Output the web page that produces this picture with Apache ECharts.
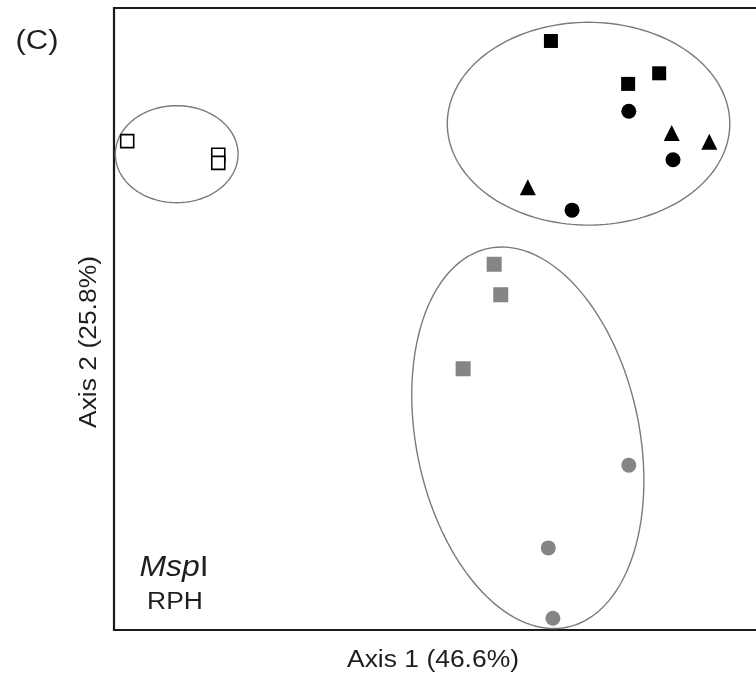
<!DOCTYPE html>
<html>
<head>
<meta charset="utf-8">
<script src="https://cdn.jsdelivr.net/npm/echarts@6/dist/echarts.min.js"></script>
<style>
  html, body { margin: 0; padding: 0; background: #fff; }
  #chart { width: 756px; height: 676px; }
</style>
</head>
<body>
<div id="chart"></div>
<script>
// Ordination scores [axis 1, axis 2] for each sample group
const openSquares    = [[2.0, 78.6], [15.8, 76.4], [15.8, 75.1]];
const blackSquares   = [[66.2, 94.7], [77.9, 87.8], [82.6, 89.5]];
const blackCircles   = [[78.0, 83.4], [84.7, 75.6], [69.4, 67.5]];
const blackTriangles = [[84.5, 79.9], [90.2, 78.5], [62.7, 71.2]];
const graySquares    = [[57.6, 58.8], [58.6, 53.9], [52.9, 42.0]];
const grayCircles    = [[78.0, 26.5], [65.8, 13.2], [66.5, 1.9]];

// Cluster ellipses: [centre x, centre y, semi-axis x, semi-axis y, tilt in degrees]
const ellipses = [
  [9.5, 76.5, 9.3, 7.8, 0],
  [71.9, 81.4, 21.4, 16.3, 0],
  [62.7, 30.9, 16.9, 31.1, -11.7]
];

const axisTitles = ['Axis 1 (46.6%)', 'Axis 2 (25.8%)'];
const panelTag = '(C)';
const enzymeName = ['Msp', 'I'];
const sampleType = 'RPH';

const FONT = '"Liberation Sans", Arial, sans-serif';
const TEXT = '#1e1e1e';
const BLACK = '#000000';
const GREY = '#858585';

function scatter(name, data, symbol, color, size, border) {
  return {
    name, type: 'scatter', data, symbol, symbolSize: size,
    itemStyle: border
      ? { color: '#ffffff', borderColor: BLACK, borderWidth: 1.6, opacity: 1 }
      : { color: color, opacity: 1 },
    emphasis: { disabled: true },
    z: 3
  };
}

function ellipseItem(params, api) {
  const c = api.coord([api.value(0), api.value(1)]);
  const s = api.size([api.value(2), api.value(3)]);
  const phi = api.value(4) * Math.PI / 180;
  const pts = [];
  const n = 160;
  for (let i = 0; i <= n; i++) {
    const t = i / n * Math.PI * 2;
    const x = s[0] * Math.cos(t);
    const y = s[1] * Math.sin(t);
    pts.push([
      c[0] + x * Math.cos(phi) - y * Math.sin(phi),
      c[1] + x * Math.sin(phi) + y * Math.cos(phi)
    ]);
  }
  return {
    type: 'polyline',
    shape: { points: pts },
    style: { fill: null, stroke: '#7a7a7a', lineWidth: 1.4 },
    silent: true
  };
}

const chart = echarts.init(document.getElementById('chart'), null, { renderer: 'canvas' });

const labelStyle = (text, size) => ({
  text, x: 0, y: 0, align: 'center', verticalAlign: 'middle',
  fontFamily: FONT, fontSize: size, fill: TEXT
});

chart.setOption({
  animation: false,
  backgroundColor: '#ffffff',
  grid: {
    left: 114, top: 8, width: 660, height: 622,
    outerBoundsMode: 'none', containLabel: false,
    show: true, borderColor: '#1a1a1a', borderWidth: 2.2, backgroundColor: 'transparent'
  },
  xAxis: {
    type: 'value', min: 0, max: 100,
    axisLine: { show: false }, axisTick: { show: false },
    axisLabel: { show: false }, splitLine: { show: false }
  },
  yAxis: {
    type: 'value', min: 0, max: 100,
    axisLine: { show: false }, axisTick: { show: false },
    axisLabel: { show: false }, splitLine: { show: false }
  },
  series: [
    {
      name: 'clusters', type: 'custom', renderItem: ellipseItem,
      data: ellipses, clip: false, z: 1, silent: true
    },
    scatter('open square', openSquares, 'rect', null, 13, true),
    scatter('black square', blackSquares, 'rect', BLACK, 14),
    scatter('black circle', blackCircles, 'circle', BLACK, 15),
    scatter('black triangle', blackTriangles, 'triangle', BLACK, 16),
    scatter('grey square', graySquares, 'rect', GREY, 15),
    scatter('grey circle', grayCircles, 'circle', GREY, 15)
  ],
  graphic: [
    { type: 'text', x: 433, y: 661, scaleX: 1.15, style: labelStyle(axisTitles[0], 23), silent: true },
    { type: 'text', x: 90, y: 342, rotation: Math.PI / 2, scaleX: 1.15, style: labelStyle(axisTitles[1], 23), silent: true },
    { type: 'text', x: 37, y: 42, scaleX: 1.15, style: labelStyle(panelTag, 27), silent: true },
    {
      type: 'text', x: 174, y: 568, scaleX: 1.1, silent: true,
      style: {
        text: '{i|' + enzymeName[0] + '}{n|' + enzymeName[1] + '}',
        x: 0, y: 0, align: 'center', verticalAlign: 'middle',
        fontFamily: FONT, fontSize: 29, fill: TEXT,
        rich: {
          i: { fontFamily: FONT, fontSize: 29, fontStyle: 'italic', fill: TEXT },
          n: { fontFamily: FONT, fontSize: 29, fill: TEXT }
        }
      }
    },
    { type: 'text', x: 175, y: 603, scaleX: 1.15, style: labelStyle(sampleType, 23), silent: true }
  ]
});
</script>
</body>
</html>
